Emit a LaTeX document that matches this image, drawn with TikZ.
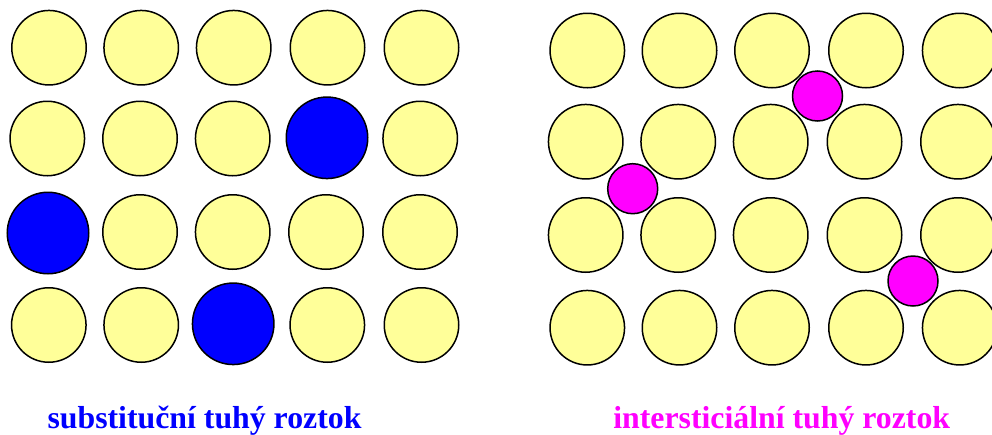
\documentclass[tikz,border=0pt]{standalone}
\usepackage{fontspec}
\setmainfont{Liberation Serif}
\definecolor{atomY}{HTML}{FFFF99}
\definecolor{atomB}{HTML}{0000FF}
\definecolor{atomM}{HTML}{FF00FF}
\tikzset{
  host/.style={circle, draw=black, line width=1.5pt, fill=atomY, minimum size=74.5pt, inner sep=0pt},
  subst/.style={circle, draw=black, line width=1.5pt, fill=atomB, minimum size=81.5pt, inner sep=0pt},
  inter/.style={circle, draw=black, line width=1.5pt, fill=atomM, minimum size=50pt, inner sep=0pt},
  caption/.style={font=\bfseries\fontsize{31.8pt}{36pt}\selectfont, anchor=base, inner sep=0pt}
}
\begin{document}
\begin{tikzpicture}[x=1pt, y=-1pt]
\useasboundingbox (0,0) rectangle (992,434);
\clip (0,0) rectangle (992,434);
% left grid: substitutional
\node[host] (L11) at (49,47.7) {};
\node[host] (L12) at (141.2,47.7) {};
\node[host] (L13) at (233.7,47.7) {};
\node[host] (L14) at (327.5,47.7) {};
\node[host] (L15) at (421.5,47.7) {};
\node[host] (L21) at (47.3,138.5) {};
\node[host] (L22) at (140,138.5) {};
\node[host] (L23) at (232.7,138.5) {};
\node[subst] (L24) at (327,137.8) {};
\node[host] (L25) at (420.2,138.5) {};
\node[subst] (L31) at (48,233) {};
\node[host] (L32) at (140,232) {};
\node[host] (L33) at (232.7,232) {};
\node[host] (L34) at (326,232) {};
\node[host] (L35) at (420,232) {};
\node[host] (L41) at (48.8,325) {};
\node[host] (L42) at (141.2,325) {};
\node[subst] (L43) at (233.2,323.8) {};
\node[host] (L44) at (327.3,325) {};
\node[host] (L45) at (421.5,325) {};
% right grid: interstitial
\node[host] (R11) at (587.3,50.5) {};
\node[host] (R12) at (679.5,50.5) {};
\node[host] (R13) at (772,50.5) {};
\node[host] (R14) at (866,50.5) {};
\node[host] (R15) at (959.7,50.5) {};
\node[host] (R21) at (585.7,141.7) {};
\node[host] (R22) at (678.2,141.7) {};
\node[host] (R23) at (770.7,141.7) {};
\node[host] (R24) at (864.5,141.7) {};
\node[host] (R25) at (958,141.7) {};
\node[host] (R31) at (585.7,235) {};
\node[host] (R32) at (678.2,235) {};
\node[host] (R33) at (770.7,235) {};
\node[host] (R34) at (864.5,235) {};
\node[host] (R35) at (958,235) {};
\node[host] (R41) at (587.3,327.7) {};
\node[host] (R42) at (679.5,327.7) {};
\node[host] (R43) at (772,327.7) {};
\node[host] (R44) at (866,327.7) {};
\node[host] (R45) at (959.7,327.7) {};
\node[inter] (M1) at (817.5,96) {};
\node[inter] (M2) at (632.7,188.7) {};
\node[inter] (M3) at (913,281) {};
% captions
\node[caption, text=atomB] (capL) at (204.5,428.3) {substituční tuhý roztok};
\node[caption, text=atomM] (capR) at (781.7,428.3) {intersticiální tuhý roztok};
\end{tikzpicture}
\end{document}
